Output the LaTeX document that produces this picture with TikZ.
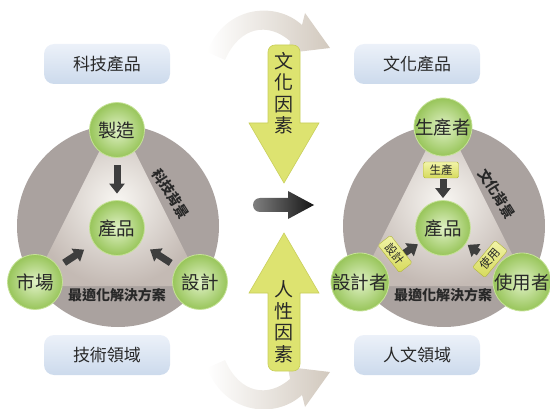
\documentclass[tikz,border=0pt]{standalone}
\usepackage{fontspec}
\setmainfont{Noto Sans CJK TC}
\usepackage{tikz}
\usetikzlibrary{arrows.meta}
\begin{document}
\begin{tikzpicture}[x=1pt,y=1pt,
  greenball/.style={circle,minimum size=55pt,inner sep=0pt,inner color=ballin,outer color=ballout,draw=ballrim,line width=0.8pt,font=\fontsize{18.5}{18.5}\selectfont,text=txt},
  tagbox/.style={rounded corners=10pt,minimum width=126pt,minimum height=40pt,top color=tagtop,bottom color=tagbot,font=\fontsize{17}{17}\selectfont,text=txt},
  chip/.style={rounded corners=1.5pt,minimum width=35pt,minimum height=16pt,inner sep=1pt,draw=chiprim,top color=chiptop,bottom color=chipbot,font=\fontsize{11.5}{11.5}\selectfont,text=txt},
  blk/.style={line width=7pt,draw=blkgray,-{Triangle[width=15pt,length=10pt]}},
  sidetext/.style={font=\bfseries\fontsize{14}{14}\selectfont,text=txt,inner sep=0pt},
  bigarrow/.style={fill=yel,draw=yelrim,line width=0.6pt},
  sweep/.style={left color=white,right color=beige},
  tri/.style={inner color=trin,outer color=trout}]
\definecolor{ring}{RGB}{170,162,159}
\definecolor{trin}{RGB}{248,246,242}
\definecolor{trout}{RGB}{196,186,180}
\definecolor{ballin}{RGB}{224,241,198}
\definecolor{ballout}{RGB}{152,197,90}
\definecolor{ballrim}{RGB}{198,226,152}
\definecolor{tagtop}{RGB}{236,241,249}
\definecolor{tagbot}{RGB}{204,218,236}
\definecolor{chiptop}{RGB}{242,244,168}
\definecolor{chipbot}{RGB}{214,218,92}
\definecolor{chiprim}{RGB}{176,180,60}
\definecolor{blkgray}{RGB}{62,62,62}
\definecolor{yel}{RGB}{221,227,112}
\definecolor{yelrim}{RGB}{200,206,90}
\definecolor{beige}{RGB}{210,201,190}
\definecolor{txt}{RGB}{40,40,40}
\useasboundingbox (0,0) rectangle (550,408);
\shade[sweep] (225,348) -- (207,356) .. controls (225,403) and (276,407) .. (302,383) -- (305,395) -- (330,360) -- (288,355) -- (290,367) .. controls (268,386) and (240,382) .. (225,348) -- cycle;
\shade[sweep] (225,48) -- (207,40) .. controls (225,-7) and (276,-11) .. (302,13) -- (305,1) -- (330,36) -- (288,41) -- (290,29) .. controls (268,10) and (240,14) .. (225,48) -- cycle;
\fill[ring] (118,182) circle[radius=101];
\fill[ring] (444,182) circle[radius=101];
\shade[tri] (117,292) -- (32,122) -- (202,122) -- cycle;
\shade[tri] (443,292) -- (358,122) -- (528,122) -- cycle;
\node[greenball] (v1) at (117,278) {製造};
\node[greenball] (v2) at (117,180) {產品};
\node[greenball] (v3) at (35,126) {市場};
\node[greenball] (v4) at (200,126) {設計};
\draw[blk,shorten <=7.5pt,shorten >=6.5pt] (v1) -- (v2);
\draw[blk,shorten <=7pt,shorten >=11.5pt] (v3) -- (v2);
\draw[blk,shorten <=7pt,shorten >=11.5pt] (v4) -- (v2);
\node[sidetext,rotate=-58] (v5) at (171,214) {科技背景};
\node[sidetext] (v6) at (117,113) {最適化解決方案};
\node[tagbox] (v7) at (107,344) {科技產品};
\node[tagbox] (v8) at (107,53) {技術領域};
\node[greenball] (v9) at (443,281) {生產者};
\node[greenball] (v10) at (443,180) {產品};
\node[greenball] (v11) at (360,126) {設計者};
\node[greenball] (v12) at (522,126) {使用者};
\draw[blk,shorten <=23pt,shorten >=2pt] (v9) -- (v10);
\draw[blk,shorten <=23pt,shorten >=2pt] (v11) -- (v10);
\draw[blk,shorten <=23pt,shorten >=2pt] (v12) -- (v10);
\node[chip] (v13) at (441,238) {生產};
\node[chip,rotate=-52] (v14) at (395,154) {設計};
\node[chip,rotate=50] (v15) at (490,149) {使用};
\node[sidetext,rotate=-58] (v16) at (497,214) {文化背景};
\node[sidetext] (v17) at (443,113) {最適化解決方案};
\node[tagbox] (v18) at (417,344) {文化產品};
\node[tagbox] (v19) at (417,53) {人文領域};
\draw[bigarrow] (284,225) -- (319,285) -- (300,285) -- (300,356) arc[start angle=0,end angle=90,radius=7] -- (275,363) arc[start angle=90,end angle=180,radius=7] -- (268,285) -- (249,285) -- cycle;
\draw[bigarrow] (284,175) -- (319,115) -- (300,115) -- (300,44) arc[start angle=0,end angle=-90,radius=7] -- (275,37) arc[start angle=270,end angle=180,radius=7] -- (268,115) -- (249,115) -- cycle;
\node[align=center,font=\fontsize{19}{21.5}\selectfont,text=txt] (v20) at (284,315) {文\\化\\因\\素};
\node[align=center,font=\fontsize{19}{21.5}\selectfont,text=txt] (v21) at (284,86) {人\\性\\因\\素};
\shade[left color=black!50,right color=black!92] (314,203) -- (288,217) -- (288,210) -- (260,210) arc[start angle=90,end angle=270,radius=7] -- (288,196) -- (288,189) -- cycle;
\end{tikzpicture}
\end{document}
